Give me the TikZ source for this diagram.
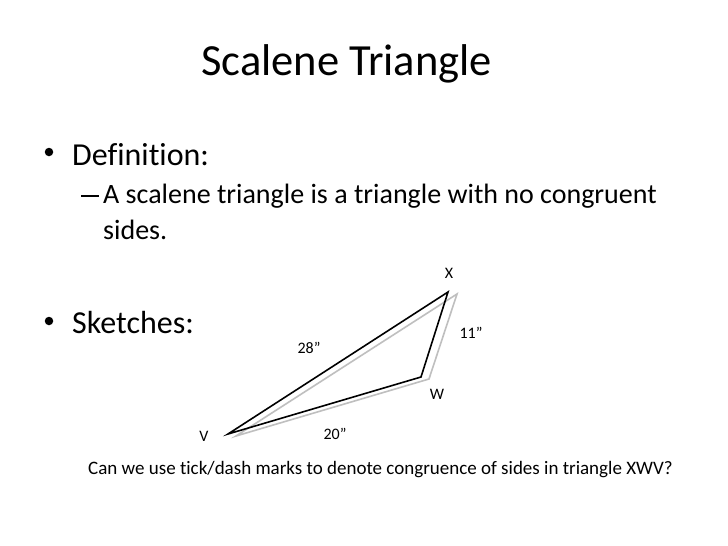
\documentclass[tikz,border=0pt]{standalone}
\usepackage{fontspec}
\setmainfont{Carlito}[Ligatures=NoCommon]
\begin{document}
\begin{tikzpicture}[x=1pt,y=-1pt,
  txt/.style={inner sep=0pt,anchor=base west,text=black},
  lbl/.style={inner sep=0pt,font=\fontsize{16}{19}\selectfont},
  bul/.style={circle,fill=black,inner sep=0pt,minimum size=8.5pt},
  dashbar/.style={rectangle,fill=black,inner sep=0pt,minimum width=18pt,minimum height=1.6pt},
  side/.style={draw=black,line width=1.6pt,line join=miter},
  shadow/.style={draw=black!25,line width=1.6pt,line join=miter}]
\useasboundingbox[fill=white] (0,0) rectangle (728,546);
% title
\node[txt,font=\fontsize{44.5}{52}\selectfont] (title) at (201,75) {Scalene Triangle};
% bullets
\node[bul] (d1) at (49,152) {};
\node[txt,font=\fontsize{32}{38}\selectfont] (b1) at (72,165) {Definition:};
\node[dashbar] (dash) at (89.5,196) {};
\node[txt,font=\fontsize{28}{34}\selectfont] (b2) at (103,203) {A scalene triangle is a triangle with no congruent};
\node[txt,font=\fontsize{28}{34}\selectfont] (b3) at (103,239) {sides.};
\node[bul] (d2) at (49,321) {};
\node[txt,font=\fontsize{32}{38}\selectfont] (b4) at (72,333) {Sketches:};
% triangle
\coordinate (X) at (448,292);
\coordinate (W) at (421,377);
\coordinate (V) at (228,434);
\coordinate (Xs) at (457,294);
\coordinate (Ws) at (429,379);
\coordinate (Vs) at (236,436);
\draw[shadow] (Xs) -- (Ws) -- (Vs) -- cycle;
\draw[side] (X) -- (W) -- (V) -- cycle;
\node[lbl] (lX) at (449,273) {X};
\node[lbl] (lW) at (437,394) {W};
\node[lbl] (lV) at (204,436) {V};
\node[lbl] (l11) at (471,333) {11”};
\node[lbl] (l28) at (309,348) {28”};
\node[lbl] (l20) at (335,434) {20”};
% question
\node[txt,font=\fontsize{19}{23}\selectfont] (q) at (88,474) {Can we use tick/dash marks to denote congruence of sides in triangle XWV?};
\end{tikzpicture}
\end{document}
